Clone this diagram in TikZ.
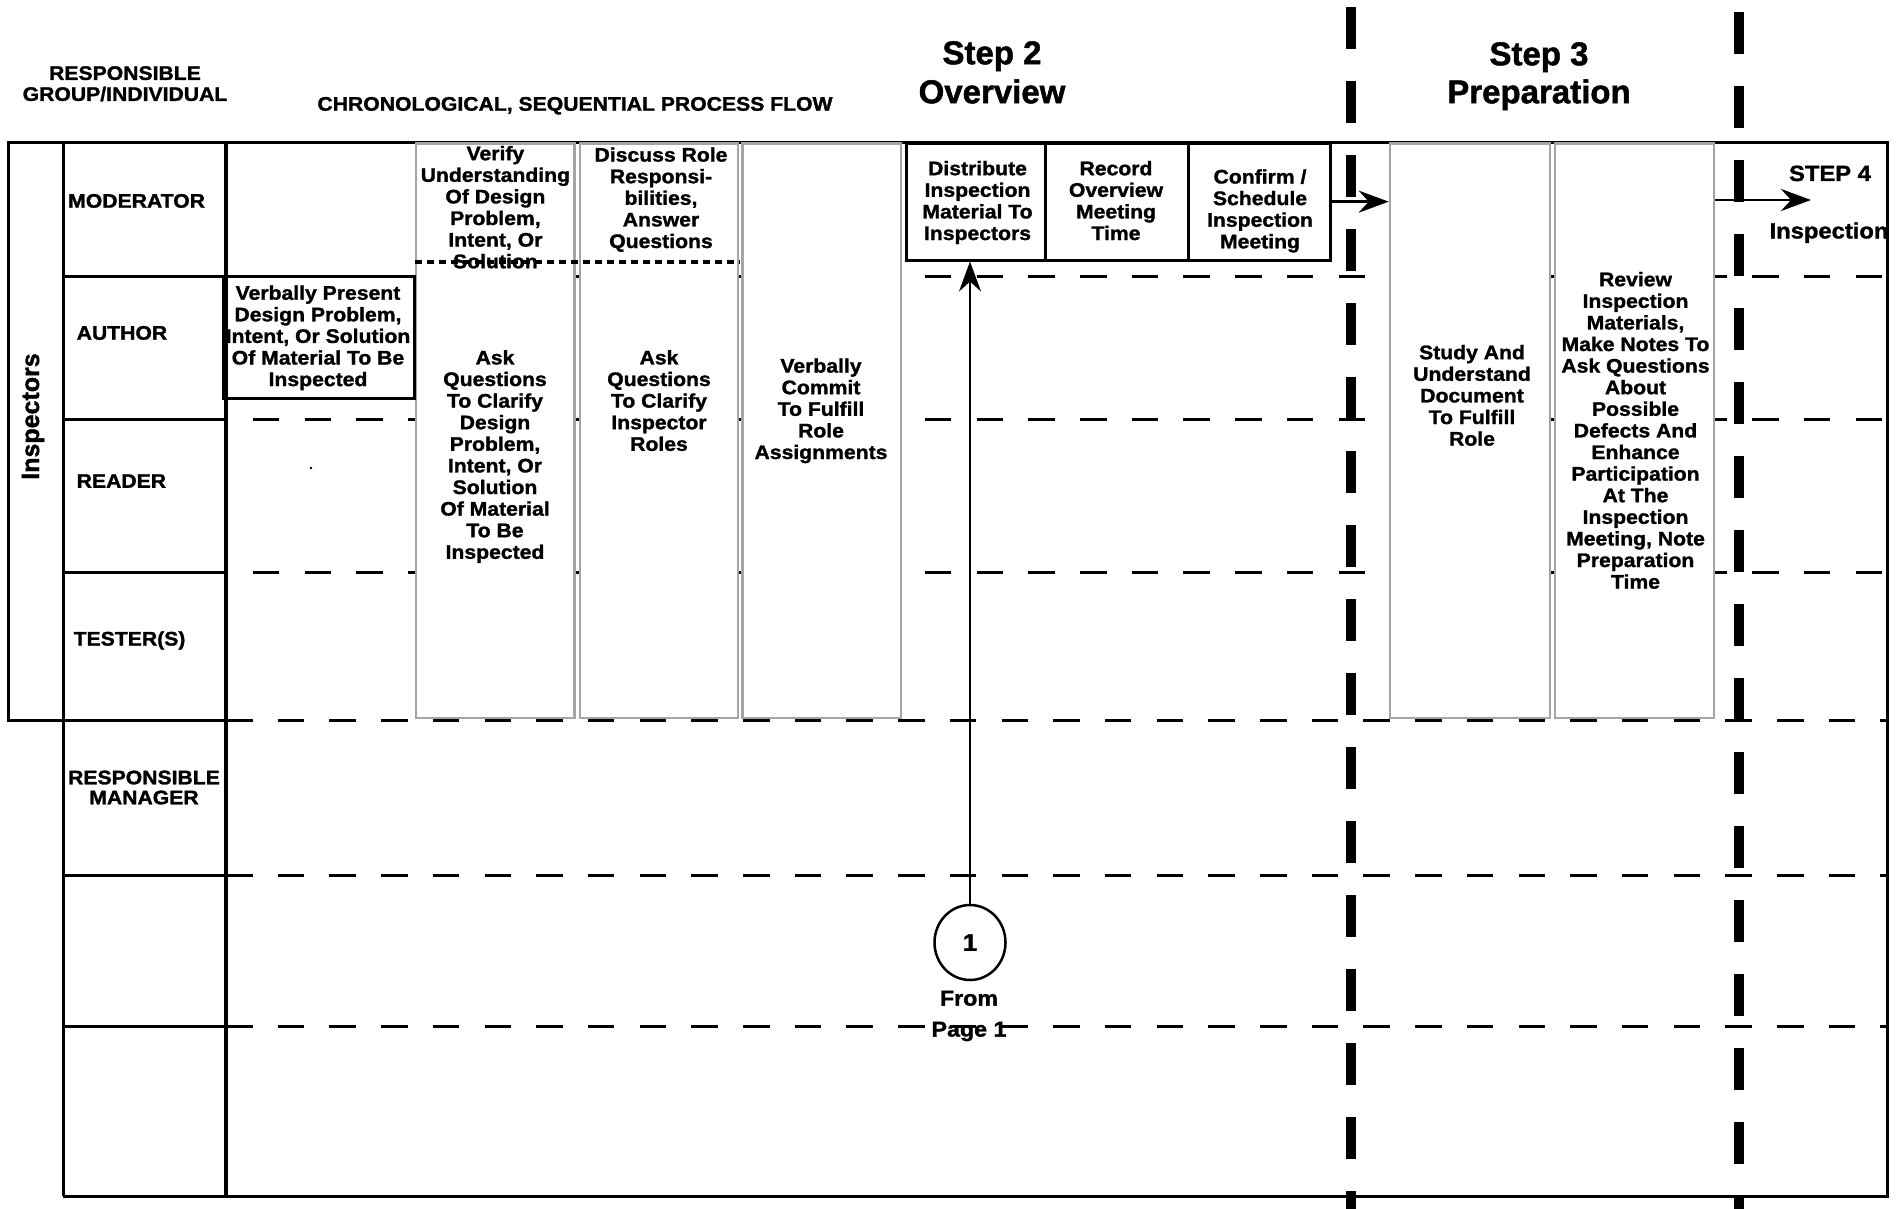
\documentclass[tikz,border=0pt]{standalone}
\usepackage{fontspec}
\setmainfont{Liberation Sans}
% heavy faces used throughout the chart
\newfontfamily\labelfont{Liberation Sans Bold}[FakeStretch=1.08, FakeBold=1.4]
\newfontfamily\titlefont{Liberation Sans Bold}[FakeBold=1.4]
\usetikzlibrary{arrows.meta,shapes.geometric}
\definecolor{colgray}{RGB}{165,165,165}

\begin{document}
\begin{tikzpicture}[x=1pt,y=-1pt,
  boxtext/.style={font=\labelfont\fontsize{19.6}{21.6}\selectfont, inner sep=0pt, align=center, anchor=north},
  rolelbl/.style={font=\labelfont\fontsize{19.6}{21}\selectfont, inner sep=0pt, align=center},
  steptitle/.style={font=\titlefont\fontsize{33}{39}\selectfont, inner sep=0pt, align=center, anchor=north},
  smalltitle/.style={font=\labelfont\fontsize{22}{26}\selectfont, inner sep=0pt, anchor=base},
  frame/.style={line width=3pt},
  divider/.style={line width=4.5pt},
  rowdash/.style={line width=3pt, dash pattern=on 26.5pt off 25.2pt},
  phasedash/.style={line width=10pt, dash pattern=on 42pt off 32pt},
  actcol/.style={draw=colgray, line width=2.6pt, fill=white, rectangle, inner sep=0pt},
  actbox/.style={draw=black, line width=3pt, fill=white, rectangle, inner sep=0pt},
  flow/.style={line width=2.5pt, -{Stealth[length=30pt, width=22pt, inset=10pt]}},
  subsplit/.style={line width=3.2pt, dash pattern=on 7pt off 5pt}
]
\useasboundingbox (0,0) rectangle (1902,1209);
\fill[white] (0,0) rectangle (1902,1209);

% swimlane separators in the process area
\foreach \yy/\ph in {276.6/24.9, 419.7/24.9, 572/24.9, 720.5/0, 875/0, 1026/0}
  \draw[rowdash, dash phase=\ph pt] (226,\yy) -- (1887,\yy);

% outer frame, role column and lane labels
\draw[frame] (8.4,143) -- (1887,143) -- (1887,1196) -- (63,1196);
\draw[frame] (8.4,143) rectangle (63,720.5);
\draw[frame] (63,143) -- (63,1196);
\foreach \yy in {276.6, 419.7, 572, 720.5, 875, 1026}
  \draw[frame] (63,\yy) -- (226,\yy);
\draw[divider] (226,143) -- (226,1196);

% header texts
\node[rolelbl, anchor=north] (hdrgroup) at (125,66) {RESPONSIBLE\\GROUP/INDIVIDUAL};
\node[rolelbl, anchor=base] (hdrflow) at (575,110.7) {CHRONOLOGICAL, SEQUENTIAL PROCESS FLOW};
\node[steptitle] (step2) at (992,41) {Step 2\\Overview};
\node[steptitle, font=\titlefont\fontsize{33}{38}\selectfont] (step3) at (1539,42) {Step 3\\Preparation};

% role names
\node[font=\titlefont\fontsize{25}{30}\selectfont, inner sep=0pt, rotate=90] (inspectors) at (33,416.5) {Inspectors};
\node[rolelbl, anchor=base west] (moderator) at (68,207.7) {MODERATOR};
\node[rolelbl, anchor=base west] (author) at (76.5,339.7) {AUTHOR};
\node[rolelbl, anchor=base west] (reader) at (76.5,487.8) {READER};
\node[rolelbl, anchor=base west] (tester) at (73.5,645.5) {TESTER(S)};
\node[rolelbl, anchor=north, font=\labelfont\fontsize{19.6}{20}\selectfont] (manager) at (144,770.4) {RESPONSIBLE\\MANAGER};

% activity columns spanning the inspector lanes
\node[actcol, minimum width=158.7pt, minimum height=574.6pt] (colA) at (495.4,430.7) {};
\node[actcol, minimum width=158pt, minimum height=574.6pt] (colB) at (659,430.7) {};
\node[actcol, minimum width=158.3pt, minimum height=574.6pt] (colC) at (821.9,430.7) {};
\node[actcol, minimum width=160pt, minimum height=574.6pt] (colD) at (1470,430.7) {};
\node[actcol, minimum width=159pt, minimum height=574.6pt] (colE) at (1634.5,430.7) {};

% moderator / inspector split inside the first two columns
\draw[subsplit] (colA.west |- 0,262) -- (colB.east |- 0,262);

% overview activities of the moderator
\node[actbox, minimum width=139.7pt, minimum height=116.7pt] (dist) at (975.85,201.65) {};
\node[actbox, minimum width=142.6pt, minimum height=116.7pt] (record) at (1117,201.65) {};
\node[actbox, minimum width=142.4pt, minimum height=116.7pt] (confirm) at (1259.5,201.65) {};

% author presentation
\draw[frame] (223,276.6) rectangle (414,398);
\fill (311,468) circle (1.3pt);

% column texts
\node[boxtext] (tA1) at (495.4,145.8) {Verify\\Understanding\\Of Design\\Problem,\\Intent, Or\\Solution};
\node[boxtext] (tA2) at (495,350) {Ask\\Questions\\To Clarify\\Design\\Problem,\\Intent, Or\\Solution\\Of Material\\To Be\\Inspected};
\node[boxtext] (tB1) at (661,147.2) {Discuss Role\\Responsi-\\bilities,\\Answer\\Questions};
\node[boxtext] (tB2) at (659,350) {Ask\\Questions\\To Clarify\\Inspector\\Roles};
\node[boxtext] (tC) at (821,358.2) {Verbally\\Commit\\To Fulfill\\Role\\Assignments};
\node[boxtext] (tD) at (1472,344.8) {Study And\\Understand\\Document\\To Fulfill\\Role};
\node[boxtext] (tE) at (1635.5,271.8) {Review\\Inspection\\Materials,\\Make Notes To\\Ask Questions\\About\\Possible\\Defects And\\Enhance\\Participation\\At The\\Inspection\\Meeting, Note\\Preparation\\Time};
\node[boxtext] (tP) at (318,285.3) {Verbally Present\\Design Problem,\\Intent, Or Solution\\Of Material To Be\\Inspected};
\node[boxtext] (tDist) at (977.5,160.8) {Distribute\\Inspection\\Material To\\Inspectors};
\node[boxtext] (tRec) at (1116,160.8) {Record\\Overview\\Meeting\\Time};
\node[boxtext] (tConf) at (1260,169.1) {Confirm /\\Schedule\\Inspection\\Meeting};

% phase boundaries
\draw[phasedash] (1351,7) -- (1351,1209);
\draw[phasedash] (1739,12) -- (1739,1209);

% hand-over to the next step
\node[smalltitle] (step4) at (1830,181) {STEP 4};
\node[smalltitle] (inspection) at (1829,238.4) {Inspection};
\coordinate (next) at (1811,200);
\draw[flow] (confirm.east) -- (confirm.east -| colD.west);
\draw[flow] (colE.east |- next) -- (next);

% off-page connector from page 1
\node[ellipse, draw, line width=2.5pt, minimum width=71pt, minimum height=75pt, inner sep=0pt,
      font=\labelfont\fontsize{24}{28}\selectfont] (conn) at (970,942.5) {1};
\node[boxtext, font=\labelfont\fontsize{21.5}{31}\selectfont] (fromlbl) at (969,990.6) {From\\Page 1};
\draw[flow] (conn.north) -- (conn.north |- dist.south);
\end{tikzpicture}
\end{document}
